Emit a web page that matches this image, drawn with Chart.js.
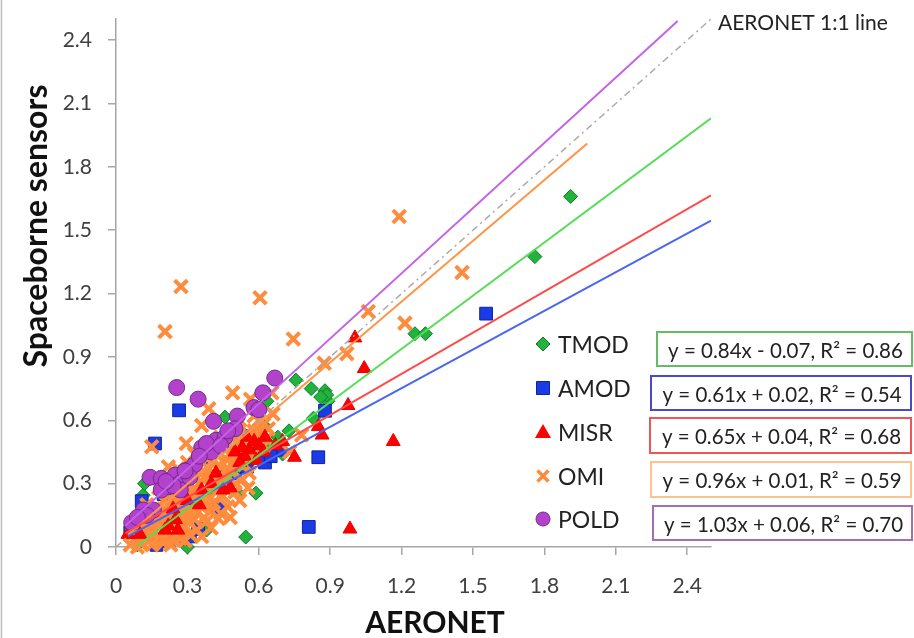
<!DOCTYPE html>
<html>
<head>
<meta charset="utf-8">
<script src="https://cdn.jsdelivr.net/npm/chart.js@4.4.1/dist/chart.umd.min.js"></script>
<style>
  html, body { margin: 0; padding: 0; background: #ffffff; }
  #wrap { width: 914px; height: 638px; position: relative; }
</style>
</head>
<body>
<div id="wrap"><canvas id="c" width="914" height="638"></canvas></div>
<script>
// ---------- data ----------
const seriesNames = ['TMOD', 'AMOD', 'MISR', 'OMI', 'POLD'];
const tickValues = [0, 0.3, 0.6, 0.9, 1.2, 1.5, 1.8, 2.1, 2.4];

const tmodPoints = [
  [1.91,1.66],[1.76,1.375],[1.256,1.01],[1.30,1.01],[0.756,0.79],[0.82,0.75],[0.878,0.74],
  [0.89,0.69],[0.885,0.72],[0.83,0.61],[0.727,0.55],[0.70,0.44],[0.626,0.57],[0.634,0.69],
  [0.458,0.615],[0.513,0.255],[0.588,0.255],[0.545,0.047],[0.38,0.08],[0.114,0.245],[0.12,0.30],
  [0.277,0.047],[0.30,0.00],[0.09,0.01],[0.20,0.12],[0.35,0.22],[0.45,0.30],[0.50,0.38],
  [0.55,0.42],[0.60,0.45],[0.65,0.48],[0.40,0.26],[0.25,0.15],[0.15,0.08],[0.68,0.52],[0.86,0.71]
];
const amodPoints = [
  [1.555,1.105],[0.878,0.645],[0.85,0.425],[0.81,0.095],[0.265,0.647],[0.164,0.49],[0.108,0.217],
  [0.626,0.40],[0.28,0.04],[0.17,0.01],[0.345,0.085],[0.43,0.18],[0.06,0.07],[0.38,0.42],
  [0.20,0.25],[0.69,0.46],[0.50,0.35],[0.55,0.38],[0.30,0.20],[0.45,0.33],[0.65,0.43],
  [0.12,0.12],[0.22,0.03],[0.31,0.05]
];
const misrPoints = [
  [1.165,0.50],[0.983,0.085],[1.004,0.99],[1.043,0.845],[0.975,0.67],[0.85,0.57],[0.866,0.53],
  [0.75,0.425],[0.626,0.52],[0.60,0.48],[0.56,0.46],[0.54,0.43],[0.58,0.50],[0.62,0.45],
  [0.52,0.40],[0.50,0.45],[0.55,0.52],[0.45,0.27],[0.48,0.28],[0.36,0.27],[0.40,0.30],
  [0.30,0.22],[0.25,0.13],[0.26,0.08],[0.24,0.18],[0.22,0.10],[0.206,0.08],[0.10,0.06],
  [0.05,0.06],[0.70,0.50],[0.67,0.48],[0.42,0.35],[0.35,0.20],[0.59,0.41],[0.53,0.47]
];
const omiPoints = [
  [1.19,1.565],[0.273,1.233],[0.605,1.18],[1.454,1.30],[1.06,1.115],[1.214,1.06],[0.206,1.02],
  [0.745,0.985],[0.97,0.915],[0.875,0.87],[0.49,0.73],[0.565,0.70],[0.655,0.73],[0.39,0.655],
  [0.36,0.575],[0.15,0.475],[0.295,0.49],[0.22,0.38],[0.55,0.54],[0.60,0.60],[0.52,0.60],
  [0.78,0.53],[0.73,0.45],
  [0.06,0.01],[0.08,0.04],[0.10,0.02],[0.12,0.06],[0.14,0.03],[0.16,0.08],[0.18,0.05],
  [0.20,0.02],[0.22,0.07],[0.24,0.04],[0.19,0.12],[0.21,0.15],[0.23,0.11],[0.25,0.18],
  [0.27,0.14],[0.29,0.10],[0.31,0.16],[0.33,0.13],[0.30,0.21],[0.28,0.24],[0.32,0.27],
  [0.34,0.22],[0.36,0.19],[0.38,0.25],[0.35,0.30],[0.37,0.33],[0.39,0.29],[0.41,0.35],
  [0.43,0.31],[0.40,0.40],[0.42,0.44],[0.44,0.38],[0.46,0.42],[0.48,0.36],[0.45,0.47],
  [0.47,0.50],[0.49,0.45],[0.51,0.40],[0.53,0.48],[0.52,0.53],[0.55,0.45],[0.57,0.50],
  [0.58,0.43],[0.60,0.52],[0.62,0.48],[0.64,0.56],[0.26,0.30],[0.24,0.26],[0.20,0.22],
  [0.17,0.18],[0.15,0.14],[0.13,0.20],[0.11,0.11],[0.09,0.08],[0.18,0.28],[0.22,0.33],
  [0.26,0.37],[0.30,0.40],[0.33,0.44],[0.30,0.35],[0.27,0.20],[0.35,0.38],[0.38,0.42],
  [0.34,0.08],[0.38,0.12],[0.43,0.135],[0.48,0.14],[0.41,0.21],[0.45,0.24],[0.50,0.26],
  [0.555,0.28],[0.53,0.32],[0.50,0.30],[0.46,0.29],[0.42,0.26],[0.40,0.17],[0.36,0.05],
  [0.31,0.06],[0.26,0.09],[0.29,0.03],[0.58,0.62],[0.62,0.58],[0.66,0.63],
  [0.07,0.06],[0.09,0.00],[0.11,0.05],[0.13,0.09],[0.15,0.01],[0.17,0.11],[0.19,0.03],
  [0.21,0.09],[0.23,0.01],[0.25,0.06],[0.27,0.04],[0.14,0.11],[0.16,0.16],[0.18,0.14],
  [0.20,0.18],[0.22,0.20],[0.24,0.14],[0.26,0.22],[0.28,0.17],[0.30,0.13],[0.32,0.19],
  [0.34,0.16],[0.33,0.25],[0.31,0.30],[0.29,0.28],[0.36,0.24],[0.39,0.20],[0.37,0.14],
  [0.41,0.28],[0.44,0.34],[0.47,0.33],[0.49,0.40],[0.51,0.44],[0.54,0.39],[0.56,0.35],
  [0.52,0.22],[0.47,0.19],[0.44,0.16],[0.40,0.09],[0.58,0.55],[0.61,0.55],[0.63,0.51],
  [0.49,0.51],[0.44,0.52],[0.41,0.47],[0.39,0.37],[0.36,0.35],[0.34,0.33],[0.32,0.37]
];
const poldPoints = [
  [0.255,0.755],[0.345,0.70],[0.667,0.80],[0.617,0.73],[0.58,0.66],[0.60,0.65],[0.51,0.62],
  [0.41,0.595],[0.50,0.56],[0.36,0.47],[0.42,0.505],[0.458,0.52],[0.40,0.45],[0.38,0.49],
  [0.44,0.48],[0.47,0.55],[0.143,0.33],[0.19,0.325],[0.248,0.34],[0.30,0.365],[0.33,0.39],
  [0.277,0.31],[0.22,0.285],[0.19,0.27],[0.27,0.27],[0.115,0.175],[0.157,0.175],[0.066,0.115],
  [0.13,0.15],[0.09,0.14],[0.31,0.33],[0.35,0.43],[0.24,0.29],[0.21,0.31],[0.29,0.36]
];

// trendlines (from the equations printed in the chart)
const trendSlopes     = [0.84, 0.61, 0.65, 0.96, 1.03];
const trendIntercepts = [-0.07, 0.02, 0.04, 0.01, 0.06];
const trendR2         = [0.86, 0.54, 0.68, 0.59, 0.70];
const trendXStart     = [0.09, 0.05, 0.04, 0.05, 0.04];
const trendXEnd       = [2.5, 2.5, 2.5, 1.98, 2.36];
const oneToOne        = [[0, 0], [2.5, 2.5]];

// ---------- styles ----------
const markerFill   = ['#22B23E', '#1B3BE6', '#FF0000', '#FF8B3D', '#B441CC'];
const markerBorder = ['#0F7A25', '#0D2499', '#E80000', '#FF8B3D', '#6E2C8C'];
const markerStyle  = ['rectRot', 'rect', 'triangle', 'crossRot', 'circle'];
const markerRadius = [7, 9, 8, 9, 8];
const markerBW     = [1, 1, 1, 4, 1];
const lineColors   = ['#55DD55', '#4A66F0', '#FF4A4A', '#FF9445', '#C463E6'];
const boxColors    = ['#66BB66', '#4A4AC8', '#EE5555', '#FFC28E', '#A070B2'];
const FONT = 'Lato, "Open Sans", sans-serif';

const allPoints = [tmodPoints, amodPoints, misrPoints, omiPoints, poldPoints];
const drawOrder = [5, 4, 2, 3, 1]; // lower = on top

const datasets = [];
for (let i = 0; i < 5; i++) {
  datasets.push({
    type: 'line', label: seriesNames[i] + ' trend',
    data: [trendXStart[i], trendXEnd[i]].map(x => ({ x: x, y: trendSlopes[i] * x + trendIntercepts[i] })),
    borderColor: lineColors[i], borderWidth: 2, pointRadius: 0, fill: false, order: 0
  });
}
datasets.push({
  type: 'line', label: '1:1',
  data: oneToOne.map(p => ({ x: p[0], y: p[1] })),
  borderColor: '#ABABAB', borderWidth: 1.5, borderDash: [7, 4, 2, 4], pointRadius: 0, fill: false, order: 0
});
for (let i = 0; i < 5; i++) {
  datasets.push({
    type: 'scatter', label: seriesNames[i],
    data: allPoints[i].map(p => ({ x: p[0], y: p[1] })),
    pointStyle: markerStyle[i], pointRadius: markerRadius[i], pointHoverRadius: markerRadius[i],
    backgroundColor: markerFill[i], borderColor: markerBorder[i], borderWidth: markerBW[i],
    clip: false, order: drawOrder[i]
  });
}

function drawMarker(ctx, style, x, y, i) {
  ctx.save();
  ctx.fillStyle = markerFill[i];
  ctx.strokeStyle = markerBorder[i];
  ctx.lineWidth = 1;
  ctx.beginPath();
  if (style === 'rectRot') {
    const r = 7; ctx.moveTo(x - r, y); ctx.lineTo(x, y - r); ctx.lineTo(x + r, y); ctx.lineTo(x, y + r); ctx.closePath();
    ctx.fill(); ctx.stroke();
  } else if (style === 'rect') {
    ctx.rect(x - 6.5, y - 6.5, 13, 13); ctx.fill(); ctx.stroke();
  } else if (style === 'triangle') {
    ctx.moveTo(x, y - 8); ctx.lineTo(x + 8, y + 6); ctx.lineTo(x - 8, y + 6); ctx.closePath(); ctx.fill();
  } else if (style === 'crossRot') {
    ctx.lineWidth = 3.5; ctx.strokeStyle = markerFill[i];
    ctx.moveTo(x - 5.5, y - 5.5); ctx.lineTo(x + 5.5, y + 5.5); ctx.moveTo(x + 5.5, y - 5.5); ctx.lineTo(x - 5.5, y + 5.5); ctx.stroke();
  } else {
    ctx.arc(x, y, 7, 0, Math.PI * 2); ctx.fill(); ctx.stroke();
  }
  ctx.restore();
}

function fmtEq(i) {
  const s = trendSlopes[i].toFixed(2);
  const b = trendIntercepts[i];
  const sign = b < 0 ? ' - ' : ' + ';
  return 'y = ' + s + 'x' + sign + Math.abs(b).toFixed(2) + ', R\u00B2 = ' + trendR2[i].toFixed(2);
}

const legendRows = [346, 390, 434, 478, 521];
const boxRects = [[657, 332, 255, 34], [651, 376, 260, 34], [650, 418, 261, 35], [651, 462, 260, 35], [653, 506, 259, 34]];

const decor = {
  id: 'decor',
  afterDraw(chart) {
    const ctx = chart.ctx;
    ctx.save();
    // left frame line
    ctx.strokeStyle = '#BDBDBD'; ctx.lineWidth = 1.5;
    ctx.beginPath(); ctx.moveTo(1.5, 0); ctx.lineTo(1.5, 638); ctx.stroke();
    // axis titles
    ctx.fillStyle = '#111';
    ctx.font = 'bold 30px ' + FONT;
    ctx.textAlign = 'center'; ctx.textBaseline = 'alphabetic';
    ctx.fillText('AERONET', 435, 633);
    ctx.save();
    ctx.translate(37, 226); ctx.rotate(-Math.PI / 2);
    ctx.font = 'bold 32px ' + FONT;
    ctx.textBaseline = 'middle';
    ctx.fillText('Spaceborne sensors', 0, 0);
    ctx.restore();
    // 1:1 label
    ctx.font = '21px ' + FONT; ctx.fillStyle = '#222'; ctx.textAlign = 'left'; ctx.textBaseline = 'middle';
    ctx.fillText('AERONET 1:1 line', 718, 23);
    // legend
    for (let i = 0; i < 5; i++) {
      const y = legendRows[i];
      drawMarker(ctx, markerStyle[i], 543, y - 2, i);
      ctx.font = '23px ' + FONT; ctx.fillStyle = '#222'; ctx.textAlign = 'left'; ctx.textBaseline = 'middle';
      ctx.fillText(seriesNames[i], 558, y);
      const r = boxRects[i];
      ctx.strokeStyle = boxColors[i]; ctx.lineWidth = 2;
      ctx.strokeRect(r[0], r[1], r[2], r[3]);
      ctx.font = '20.5px ' + FONT; ctx.fillStyle = '#222'; ctx.textAlign = 'center';
      ctx.fillText(fmtEq(i), r[0] + r[2] / 2 + 1, r[1] + r[3] / 2 + 2);
    }
    ctx.restore();
  }
};

const axisCommon = (isX) => ({
  type: 'linear', min: 0, max: 2.5,
  afterBuildTicks: s => { s.ticks = tickValues.map(v => ({ value: v })); },
  ticks: {
    callback: v => (v === 0 ? '0' : Number(v).toFixed(1)),
    font: { family: FONT, size: 21 }, color: '#404040',
    padding: isX ? 19 : 16, maxRotation: 0, autoSkip: false
  },
  grid: { drawOnChartArea: false, drawTicks: true, tickLength: 8, color: '#A6A6A6', lineWidth: 1.5 },
  border: { display: true, color: '#A6A6A6', width: 1.5 },
  title: { display: false },
  afterFit: s => {
    if (isX) { s.height = 91; s.paddingLeft = 0; s.paddingRight = 0; }
    else { s.width = 116; s.paddingTop = 0; s.paddingBottom = 0; }
  }
});

new Chart(document.getElementById('c'), {
  type: 'scatter',
  data: { datasets: datasets },
  options: {
    responsive: false, animation: false, devicePixelRatio: 1,
    layout: { padding: { top: 19, right: 203, left: 0, bottom: 0 } },
    plugins: { legend: { display: false }, tooltip: { enabled: false } },
    scales: { x: axisCommon(true), y: axisCommon(false) }
  },
  plugins: [decor]
});
</script>
</body>
</html>
